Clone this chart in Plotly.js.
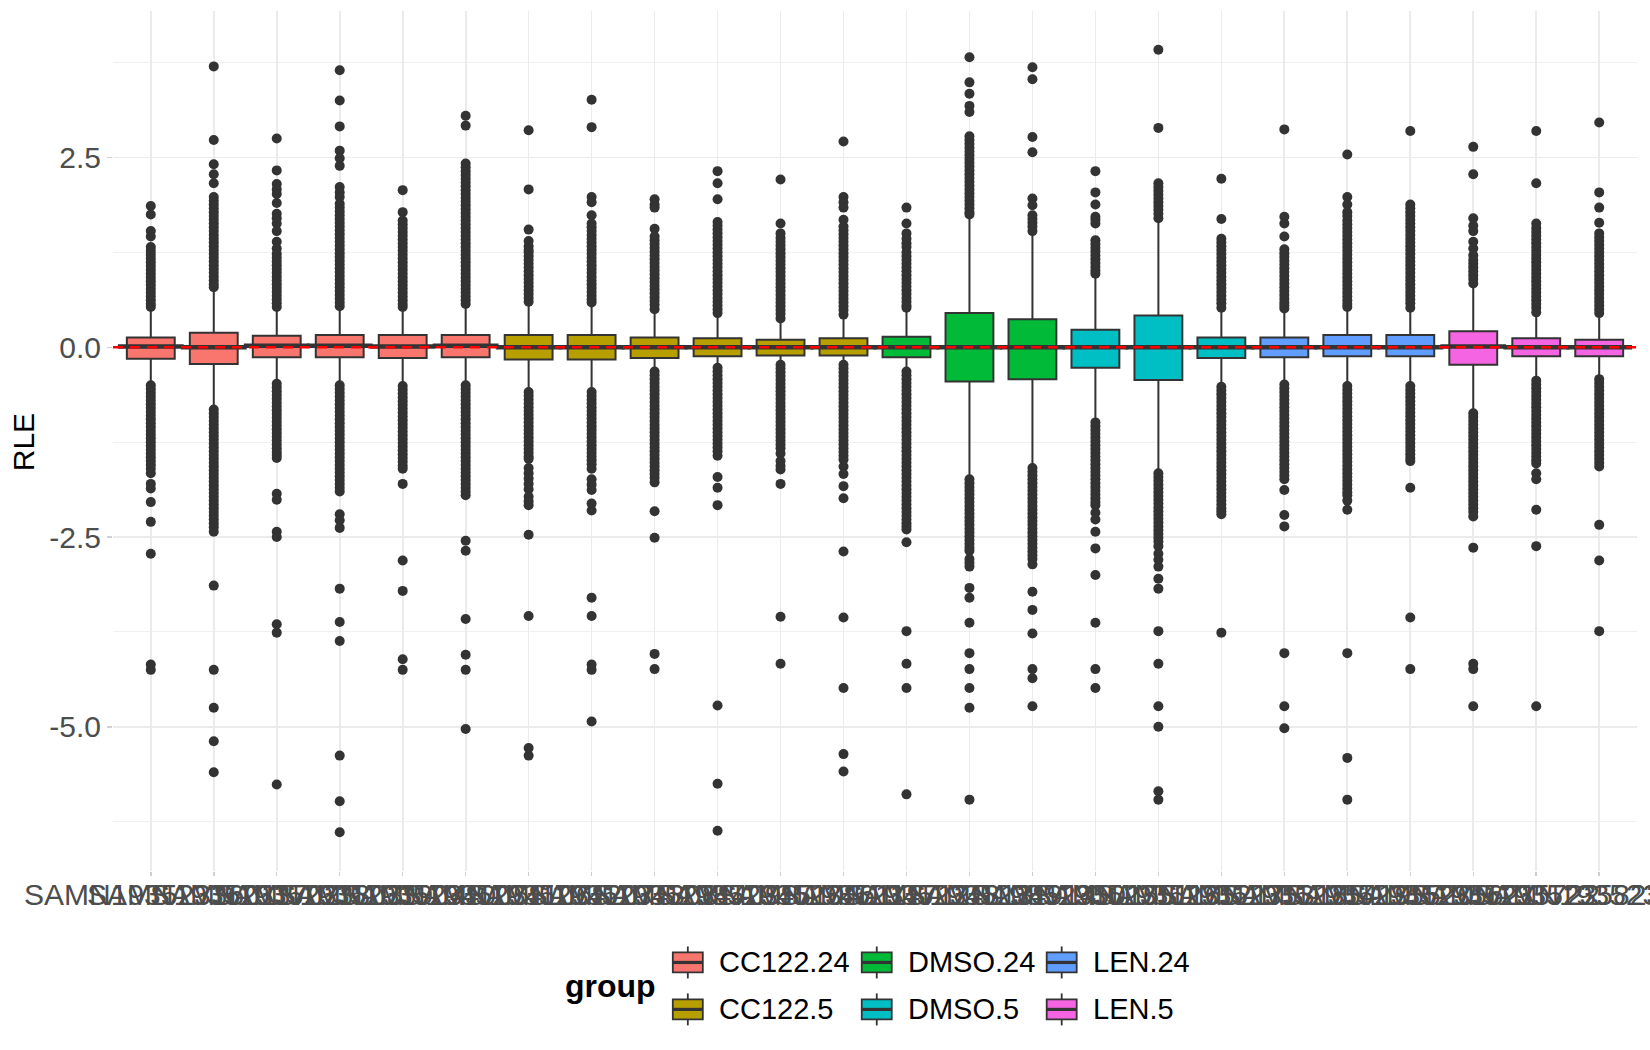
<!DOCTYPE html>
<html>
<head>
<meta charset="utf-8">
<script src="https://cdn.plot.ly/plotly-3.0.1.min.js"></script>
<style>
  html, body { margin: 0; padding: 0; background: #fff; }
  #chart { width: 1650px; height: 1050px; }
</style>
</head>
<body>
<div id="chart"></div>
<script>
// ── Data ────────────────────────────────────────────────────────────────────
const samples = [
  'SAMN1935233601', 'SAMN1935233702', 'SAMN1935233803', 'SAMN1935233904', 'SAMN1935234005', 'SAMN1935234106',
  'SAMN1935234207', 'SAMN1935234308', 'SAMN1935234409', 'SAMN1935234510', 'SAMN1935234611', 'SAMN1935234712',
  'SAMN1935234813', 'SAMN1935234914', 'SAMN1935235015', 'SAMN1935235116', 'SAMN1935235217', 'SAMN1935235318',
  'SAMN1935235419', 'SAMN1935235520', 'SAMN1935235621', 'SAMN1935235722', 'SAMN1935235823', 'SAMN1935235924',
];
const sampleGroup = [
  'CC122.24', 'CC122.24', 'CC122.24', 'CC122.24', 'CC122.24', 'CC122.24',
  'CC122.5', 'CC122.5', 'CC122.5', 'CC122.5', 'CC122.5', 'CC122.5',
  'DMSO.24', 'DMSO.24', 'DMSO.24', 'DMSO.5', 'DMSO.5', 'DMSO.5',
  'LEN.24', 'LEN.24', 'LEN.24', 'LEN.5', 'LEN.5', 'LEN.5',
];
const groupRow1 = ['CC122.24', 'DMSO.24', 'LEN.24'];
const groupRow2 = ['CC122.5', 'DMSO.5', 'LEN.5'];

const q1Vals     = [-0.15, -0.22, -0.13, -0.13, -0.14, -0.13, -0.16, -0.16, -0.14, -0.12, -0.11, -0.11,
                    -0.13, -0.45, -0.42, -0.27, -0.43, -0.14, -0.13, -0.12, -0.12, -0.23, -0.12, -0.12];
const medianVals = [0.01, 0.00, 0.02, 0.02, 0.01, 0.02, 0.00, 0.00, 0.00, 0.00, 0.00, 0.00,
                    0.00, 0.00, 0.00, 0.00, 0.00, 0.00, 0.00, 0.00, 0.00, 0.01, 0.00, 0.00];
const q3Vals     = [0.13, 0.19, 0.15, 0.16, 0.16, 0.16, 0.16, 0.16, 0.13, 0.12, 0.10, 0.12,
                    0.14, 0.45, 0.37, 0.23, 0.42, 0.13, 0.13, 0.16, 0.16, 0.21, 0.12, 0.10];
const lowerWhisker = [-0.46, -0.78, -0.44, -0.46, -0.47, -0.46, -0.55, -0.55, -0.28, -0.23, -0.19, -0.19,
                      -0.28, -1.70, -1.55, -0.95, -1.62, -0.48, -0.45, -0.47, -0.47, -0.83, -0.40, -0.38];
const upperWhisker = [0.49, 0.75, 0.49, 0.49, 0.49, 0.51, 0.55, 0.55, 0.46, 0.41, 0.34, 0.39,
                      0.48, 1.70, 1.49, 0.93, 1.66, 0.48, 0.47, 0.49, 0.48, 0.79, 0.41, 0.41];

// outliers, one list per sample (dense runs read at ~0.05 steps)
const outlierVals = [
  [1.86,1.75,1.53,1.46,1.32,1.27,1.22,1.17,1.12,1.07,1.02,0.97,0.92,0.87,0.82,0.77,0.72,0.67,0.62,0.57,0.53,
   -0.50,-0.55,-0.60,-0.65,-0.70,-0.75,-0.80,-0.85,-0.90,-0.95,-1.00,-1.05,-1.10,-1.15,-1.20,-1.25,-1.30,-1.35,-1.40,-1.45,-1.50,-1.55,-1.60,-1.66,
   -1.80,-1.86,-2.04,-2.30,-2.72,-4.18,-4.25],
  [3.70,2.73,2.41,2.28,2.16,1.98,1.93,1.88,1.83,1.78,1.73,1.68,1.63,1.58,1.53,1.48,1.43,1.38,1.33,1.28,1.23,1.18,1.13,1.08,1.03,0.98,0.93,0.88,0.83,0.79,
   -0.82,-0.87,-0.92,-0.97,-1.02,-1.07,-1.12,-1.17,-1.22,-1.27,-1.32,-1.37,-1.42,-1.47,-1.52,-1.57,-1.62,-1.67,-1.72,-1.77,-1.82,-1.87,-1.92,-1.97,
   -2.02,-2.07,-2.12,-2.17,-2.22,-2.27,-2.32,-2.37,-2.43,-3.14,-4.25,-4.75,-5.19,-5.60],
  [2.75,2.33,2.15,2.08,2.02,1.90,1.76,1.70,1.63,1.53,1.39,1.30,1.23,1.18,1.13,1.08,1.03,0.98,0.93,0.88,0.83,0.78,0.73,0.68,0.63,0.58,0.53,
   -0.48,-0.53,-0.58,-0.63,-0.68,-0.73,-0.78,-0.83,-0.88,-0.93,-0.98,-1.03,-1.08,-1.13,-1.18,-1.23,-1.28,-1.33,-1.38,-1.42,-1.46,
   -1.93,-2.01,-2.43,-2.50,-3.65,-3.76,-5.76],
  [3.65,3.25,2.91,2.59,2.49,2.39,2.11,2.04,1.98,1.89,1.84,1.79,1.74,1.69,1.64,1.59,1.54,1.49,1.44,1.39,1.34,1.29,1.24,1.19,1.14,1.09,1.04,
   0.99,0.94,0.89,0.84,0.79,0.74,0.69,0.64,0.59,0.54,
   -0.50,-0.55,-0.60,-0.65,-0.70,-0.75,-0.80,-0.85,-0.90,-0.95,-1.00,-1.05,-1.10,-1.15,-1.20,-1.25,-1.30,-1.35,-1.40,-1.45,-1.50,-1.55,-1.60,
   -1.65,-1.70,-1.75,-1.80,-1.85,-1.90,-2.20,-2.28,-2.38,-3.18,-3.62,-3.87,-5.38,-5.98,-6.39],
  [2.07,1.78,1.67,1.62,1.57,1.52,1.47,1.42,1.37,1.32,1.27,1.22,1.17,1.12,1.07,1.02,0.97,0.92,0.87,0.82,0.77,0.72,0.67,0.62,0.57,0.53,
   -0.51,-0.56,-0.61,-0.66,-0.71,-0.76,-0.81,-0.86,-0.91,-0.96,-1.01,-1.06,-1.11,-1.16,-1.21,-1.26,-1.31,-1.36,-1.41,-1.46,-1.51,-1.56,-1.60,
   -1.80,-2.81,-3.21,-4.11,-4.25],
  [3.05,2.92,2.42,2.37,2.32,2.27,2.22,2.17,2.12,2.07,2.02,1.97,1.92,1.87,1.82,1.77,1.72,1.67,1.62,1.57,1.52,1.47,1.42,1.37,1.32,1.27,1.22,1.17,
   1.12,1.07,1.02,0.97,0.92,0.87,0.82,0.77,0.72,0.67,0.62,0.57,
   -0.50,-0.55,-0.60,-0.65,-0.70,-0.75,-0.80,-0.85,-0.90,-0.95,-1.00,-1.05,-1.10,-1.15,-1.20,-1.25,-1.30,-1.35,-1.40,-1.45,-1.50,-1.55,-1.60,
   -1.65,-1.70,-1.75,-1.80,-1.85,-1.90,-1.95,-2.55,-2.68,-3.58,-4.05,-4.25,-5.03],
  [2.86,2.08,1.55,1.40,1.33,1.28,1.25,1.20,1.15,1.10,1.05,1.00,0.95,0.90,0.85,0.80,0.75,0.70,0.65,0.60,
   -0.59,-0.64,-0.69,-0.74,-0.79,-0.84,-0.89,-0.94,-0.99,-1.04,-1.09,-1.14,-1.19,-1.24,-1.29,-1.34,-1.39,-1.44,-1.47,
   -1.59,-1.66,-1.73,-1.80,-1.87,-1.97,-2.03,-2.08,-2.47,-3.54,-5.28,-5.38],
  [3.26,2.90,1.98,1.91,1.74,1.63,1.58,1.53,1.48,1.43,1.38,1.33,1.28,1.23,1.18,1.13,1.08,1.03,0.98,0.93,0.88,0.83,0.78,0.73,0.68,0.63,0.59,
   -0.59,-0.64,-0.69,-0.74,-0.79,-0.84,-0.89,-0.94,-0.99,-1.04,-1.09,-1.14,-1.19,-1.24,-1.29,-1.34,-1.39,-1.44,-1.49,-1.54,-1.60,
   -1.74,-1.81,-1.88,-2.06,-2.15,-3.30,-3.54,-4.18,-4.25,-4.93],
  [1.95,1.88,1.84,1.56,1.46,1.41,1.36,1.31,1.26,1.21,1.16,1.11,1.06,1.01,0.96,0.91,0.86,0.81,0.76,0.71,0.66,0.61,0.56,0.50,
   -0.32,-0.37,-0.42,-0.47,-0.52,-0.57,-0.62,-0.67,-0.72,-0.77,-0.82,-0.87,-0.92,-0.97,-1.02,-1.07,-1.12,-1.17,-1.22,-1.27,-1.32,-1.37,-1.42,
   -1.47,-1.52,-1.57,-1.62,-1.67,-1.72,-1.78,-2.16,-2.51,-4.04,-4.24],
  [2.32,2.16,1.95,1.65,1.60,1.55,1.50,1.45,1.40,1.35,1.30,1.25,1.20,1.15,1.10,1.05,1.00,0.95,0.90,0.85,0.80,0.75,0.70,0.65,0.60,0.55,0.50,0.45,
   -0.27,-0.32,-0.37,-0.42,-0.47,-0.52,-0.57,-0.62,-0.67,-0.72,-0.77,-0.82,-0.87,-0.92,-0.97,-1.02,-1.07,-1.12,-1.17,-1.22,-1.27,-1.32,-1.37,-1.43,
   -1.71,-1.85,-2.08,-4.72,-5.75,-6.37],
  [2.21,1.63,1.50,1.44,1.39,1.34,1.29,1.24,1.19,1.14,1.09,1.04,0.99,0.94,0.89,0.84,0.79,0.74,0.69,0.64,0.59,0.54,0.49,0.44,0.38,
   -0.23,-0.28,-0.33,-0.38,-0.43,-0.48,-0.53,-0.58,-0.63,-0.68,-0.73,-0.78,-0.83,-0.88,-0.93,-0.98,-1.03,-1.08,-1.13,-1.18,-1.23,-1.28,-1.33,-1.40,
   -1.50,-1.56,-1.61,-1.80,-3.55,-4.17],
  [2.71,1.98,1.91,1.84,1.68,1.59,1.54,1.49,1.44,1.39,1.34,1.29,1.24,1.19,1.14,1.09,1.04,0.99,0.94,0.89,0.84,0.79,0.74,0.69,0.64,0.59,0.54,0.49,0.43,
   -0.23,-0.28,-0.33,-0.38,-0.43,-0.48,-0.53,-0.58,-0.63,-0.68,-0.73,-0.78,-0.83,-0.88,-0.93,-0.98,-1.03,-1.08,-1.13,-1.18,-1.23,-1.28,-1.33,-1.38,
   -1.43,-1.48,-1.57,-1.67,-1.83,-1.99,-2.69,-3.56,-4.49,-5.36,-5.59],
  [1.84,1.63,1.50,1.43,1.37,1.32,1.25,1.20,1.15,1.10,1.05,1.00,0.95,0.90,0.85,0.80,0.75,0.70,0.65,0.60,0.55,0.52,
   -0.32,-0.37,-0.42,-0.47,-0.52,-0.57,-0.62,-0.67,-0.72,-0.77,-0.82,-0.87,-0.92,-0.97,-1.02,-1.07,-1.12,-1.17,-1.22,-1.27,-1.32,-1.37,-1.42,
   -1.47,-1.52,-1.57,-1.62,-1.67,-1.72,-1.77,-1.82,-1.87,-1.92,-1.97,-2.02,-2.07,-2.12,-2.17,-2.22,-2.27,-2.32,-2.36,-2.40,
   -2.57,-3.74,-4.17,-4.49,-5.89],
  [3.82,3.49,3.34,3.18,3.10,2.78,2.73,2.68,2.63,2.58,2.53,2.48,2.43,2.38,2.33,2.28,2.23,2.18,2.13,2.08,2.03,1.98,1.93,1.88,1.83,1.78,1.75,
   -1.74,-1.79,-1.84,-1.89,-1.94,-1.99,-2.04,-2.09,-2.14,-2.19,-2.24,-2.29,-2.34,-2.39,-2.44,-2.49,-2.54,-2.59,-2.64,-2.68,
   -2.79,-2.84,-2.89,-3.17,-3.30,-3.63,-4.03,-4.24,-4.49,-4.75,-5.96],
  [3.69,3.53,2.77,2.57,1.96,1.87,1.74,1.69,1.64,1.59,1.53,
   -1.59,-1.64,-1.69,-1.74,-1.79,-1.84,-1.89,-1.94,-1.99,-2.04,-2.09,-2.14,-2.19,-2.24,-2.29,-2.34,-2.39,-2.44,-2.49,-2.54,-2.59,-2.64,-2.69,
   -2.74,-2.79,-2.86,-3.22,-3.46,-3.77,-4.24,-4.36,-4.73],
  [2.32,2.04,1.88,1.72,1.68,1.63,1.41,1.36,1.31,1.26,1.21,1.16,1.11,1.06,1.01,0.97,
   -0.99,-1.04,-1.09,-1.14,-1.19,-1.24,-1.29,-1.34,-1.39,-1.44,-1.49,-1.54,-1.59,-1.64,-1.69,-1.74,-1.79,-1.84,-1.89,-1.94,-1.99,-2.04,-2.08,
   -2.18,-2.27,-2.43,-2.65,-3.00,-3.63,-4.24,-4.49],
  [3.92,2.89,2.16,2.11,2.06,2.01,1.96,1.91,1.86,1.81,1.76,1.70,
   -1.66,-1.71,-1.76,-1.81,-1.86,-1.91,-1.96,-2.01,-2.06,-2.11,-2.16,-2.21,-2.26,-2.31,-2.36,-2.41,-2.46,-2.51,-2.56,-2.62,
   -2.72,-2.80,-2.89,-3.05,-3.18,-3.74,-4.17,-4.73,-5.00,-5.85,-5.96],
  [2.22,1.69,1.43,1.38,1.33,1.28,1.23,1.18,1.13,1.08,1.03,0.98,0.93,0.88,0.83,0.78,0.73,0.68,0.63,0.58,0.52,
   -0.52,-0.57,-0.62,-0.67,-0.72,-0.77,-0.82,-0.87,-0.92,-0.97,-1.02,-1.07,-1.12,-1.17,-1.22,-1.27,-1.32,-1.37,-1.42,-1.47,-1.52,-1.57,-1.62,
   -1.67,-1.72,-1.77,-1.82,-1.87,-1.92,-1.97,-2.02,-2.07,-2.12,-2.16,-2.20,-3.76],
  [2.87,1.72,1.63,1.46,1.29,1.24,1.19,1.14,1.09,1.04,0.99,0.94,0.89,0.84,0.79,0.74,0.69,0.64,0.59,0.55,0.51,
   -0.49,-0.54,-0.59,-0.64,-0.69,-0.74,-0.79,-0.84,-0.89,-0.94,-0.99,-1.04,-1.09,-1.14,-1.19,-1.24,-1.29,-1.34,-1.39,-1.44,-1.49,-1.54,-1.59,
   -1.64,-1.69,-1.74,-1.88,-2.21,-2.36,-4.03,-4.73,-5.02],
  [2.54,1.98,1.88,1.78,1.73,1.67,1.62,1.57,1.52,1.47,1.42,1.37,1.32,1.27,1.22,1.17,1.12,1.07,1.02,0.97,0.92,0.87,0.82,0.77,0.72,0.67,0.62,0.57,0.53,
   -0.51,-0.56,-0.61,-0.66,-0.71,-0.76,-0.81,-0.86,-0.91,-0.96,-1.01,-1.06,-1.11,-1.16,-1.21,-1.26,-1.31,-1.36,-1.41,-1.46,-1.51,-1.56,-1.61,
   -1.66,-1.71,-1.76,-1.81,-1.86,-1.91,-1.95,-2.02,-2.14,-4.03,-5.41,-5.96],
  [2.85,1.88,1.83,1.78,1.73,1.68,1.63,1.58,1.53,1.48,1.43,1.38,1.33,1.28,1.23,1.18,1.13,1.08,1.03,0.98,0.93,0.88,0.83,0.78,0.73,0.68,0.63,0.58,0.52,
   -0.51,-0.56,-0.61,-0.66,-0.71,-0.76,-0.81,-0.86,-0.91,-0.96,-1.01,-1.06,-1.11,-1.16,-1.21,-1.26,-1.31,-1.36,-1.41,-1.46,-1.50,
   -1.85,-3.56,-4.24],
  [2.64,2.28,1.70,1.60,1.53,1.39,1.30,1.21,1.15,1.10,1.05,1.00,0.95,0.90,0.84,
   -0.87,-0.92,-0.97,-1.02,-1.07,-1.12,-1.17,-1.22,-1.27,-1.32,-1.37,-1.42,-1.47,-1.52,-1.57,-1.62,-1.67,-1.72,-1.77,-1.82,-1.87,-1.92,-1.97,
   -2.02,-2.07,-2.12,-2.17,-2.23,-2.64,-4.17,-4.24,-4.73],
  [2.85,2.16,1.63,1.57,1.52,1.47,1.42,1.37,1.32,1.27,1.22,1.17,1.12,1.07,1.02,0.97,0.92,0.87,0.82,0.77,0.72,0.67,0.62,0.57,0.52,0.46,
   -0.44,-0.49,-0.54,-0.59,-0.64,-0.69,-0.74,-0.79,-0.84,-0.89,-0.94,-0.99,-1.04,-1.09,-1.14,-1.19,-1.24,-1.29,-1.34,-1.39,-1.44,-1.49,-1.53,
   -1.66,-1.74,-2.14,-2.62,-4.73],
  [2.96,2.04,1.84,1.64,1.50,1.45,1.40,1.35,1.30,1.25,1.20,1.15,1.10,1.05,1.00,0.95,0.90,0.85,0.80,0.75,0.70,0.65,0.60,0.55,0.50,0.45,
   -0.42,-0.47,-0.52,-0.57,-0.62,-0.67,-0.72,-0.77,-0.82,-0.87,-0.92,-0.97,-1.02,-1.07,-1.12,-1.17,-1.22,-1.27,-1.32,-1.37,-1.42,-1.47,-1.52,-1.57,
   -2.34,-2.81,-3.74],
];

const refLineY  = 0;
const yTickVals = [-5, -2.5, 0, 2.5];
const yTickText = ['-5.0', '-2.5', '0.0', '2.5'];
const yMinorVals = [-6.25, -3.75, -1.25, 1.25, 3.75];

// ── Style ───────────────────────────────────────────────────────────────────
const FONT = 'Liberation Sans, Arial, Helvetica, sans-serif';
const GROUP_COLOR = {
  'CC122.24': '#F8766D',
  'CC122.5':  '#B79F00',
  'DMSO.24':  '#00BA38',
  'DMSO.5':   '#00BFC4',
  'LEN.24':   '#619CFF',
  'LEN.5':    '#F564E3',
};
const INK = '#333333';

const W = 1650, H = 1050;
const MARGIN = { l: 113, r: 12.5, t: 10.5, b: 179 };
const PLOT_W = W - MARGIN.l - MARGIN.r;
const PLOT_H = H - MARGIN.t - MARGIN.b;
// pixel -> paper helpers (used only for the hand-built ggplot-style legend)
const px2x = px => (px - MARGIN.l) / PLOT_W;
const py2y = py => (H - MARGIN.b - py) / PLOT_H;

const LEGEND_COL_PX = [673, 862, 1047];   // left edge of each key
const LEGEND_ROW_PX = [962.5, 1009.5];    // vertical centre of each row
const KEY_W = 30, KEY_HALF_H = 10, KEY_WHISK = 16;

// ── Traces ──────────────────────────────────────────────────────────────────
function boxTrace(group) {
  const idx = samples.map((s, i) => i).filter(i => sampleGroup[i] === group);
  const pick = arr => idx.map(i => arr[i]);
  return {
    type: 'box',
    name: group,
    showlegend: false,
    x: pick(samples),
    q1: pick(q1Vals),
    median: pick(medianVals),
    q3: pick(q3Vals),
    lowerfence: pick(lowerWhisker),
    upperfence: pick(upperWhisker),
    boxpoints: false,
    width: 0.76,
    whiskerwidth: 0,
    fillcolor: GROUP_COLOR[group],
    line: { color: INK, width: 2 },
    hoverinfo: 'skip',
  };
}

const traces = groupRow1.concat(groupRow2).map(boxTrace);

// thicker median bar like ggplot's fatten = 2
traces.push({
  type: 'scatter',
  mode: 'markers',
  x: samples,
  y: medianVals,
  showlegend: false,
  hoverinfo: 'skip',
  marker: { symbol: 'line-ew', size: 47, color: INK, line: { color: INK, width: 4.5 } },
});

// outlier points
const outX = [];
const outY = [];
outlierVals.forEach((vals, i) => vals.forEach(v => { outX.push(samples[i]); outY.push(v); }));
traces.push({
  type: 'scatter',
  mode: 'markers',
  x: outX,
  y: outY,
  showlegend: false,
  hoverinfo: 'skip',
  marker: { color: INK, size: 10, line: { width: 0 } },
});

// ── Legend (ggplot-style keys: box + median + whisker) ─────────────────────
const legendShapes = [];
const legendLabels = [];
[groupRow1, groupRow2].forEach((row, r) => {
  row.forEach((g, c) => {
    const left = LEGEND_COL_PX[c];
    const cy = LEGEND_ROW_PX[r];
    const cx = left + KEY_W / 2;
    const paper = { xref: 'paper', yref: 'paper' };
    legendShapes.push(Object.assign({ type: 'line', x0: px2x(cx), x1: px2x(cx),
      y0: py2y(cy - KEY_WHISK), y1: py2y(cy + KEY_WHISK), line: { color: INK, width: 1.8 } }, paper));
    legendShapes.push(Object.assign({ type: 'rect', x0: px2x(left), x1: px2x(left + KEY_W),
      y0: py2y(cy - KEY_HALF_H), y1: py2y(cy + KEY_HALF_H), fillcolor: GROUP_COLOR[g],
      line: { color: INK, width: 1.8 } }, paper));
    legendShapes.push(Object.assign({ type: 'line', x0: px2x(left), x1: px2x(left + KEY_W),
      y0: py2y(cy), y1: py2y(cy), line: { color: INK, width: 3.2 } }, paper));
    legendLabels.push({
      text: g, xref: 'paper', yref: 'paper',
      x: px2x(left + 44), y: py2y(cy), xanchor: 'left', yanchor: 'middle',
      showarrow: false, font: { family: FONT, size: 29, color: '#000000' },
    });
  });
});

// ── Layout ──────────────────────────────────────────────────────────────────
const layout = {
  width: W,
  height: H,
  paper_bgcolor: '#ffffff',
  plot_bgcolor: '#ffffff',
  font: { family: FONT, size: 29, color: '#000000' },
  margin: { l: MARGIN.l, r: MARGIN.r, t: MARGIN.t, b: MARGIN.b, pad: 0 },
  boxmode: 'overlay',
  showlegend: false,
  xaxis: {
    type: 'category',
    categoryorder: 'array',
    categoryarray: samples,
    tickmode: 'array',
    tickvals: samples,
    ticktext: samples,
    tickangle: 0,
    range: [-0.6, samples.length - 0.4],
    tickfont: { family: FONT, size: 30, color: '#4D4D4D' },
    showgrid: true,
    gridcolor: '#EBEBEB',
    gridwidth: 1.7,
    zeroline: false,
    showline: false,
    ticks: 'outside',
    ticklen: 4,
    tickwidth: 1.5,
    tickcolor: '#D0D0D0',
    ticklabelstandoff: -7,
    automargin: false,
  },
  yaxis: {
    range: [-6.9, 4.43],
    tickmode: 'array',
    tickvals: yTickVals,
    ticktext: yTickText,
    tickfont: { family: FONT, size: 30, color: '#4D4D4D' },
    showgrid: true,
    gridcolor: '#EBEBEB',
    gridwidth: 1.7,
    minor: { tickvals: yMinorVals, showgrid: true, gridcolor: '#F0F0F0', gridwidth: 1.1, ticks: '' },
    zeroline: false,
    showline: false,
    ticks: 'outside',
    ticklen: 5,
    tickwidth: 1.5,
    tickcolor: '#D0D0D0',
    automargin: false,
  },
  shapes: [{
    type: 'line',
    xref: 'paper', x0: 0, x1: 1,
    yref: 'y', y0: refLineY, y1: refLineY,
    line: { color: '#FF0000', width: 2.5, dash: '10px,7px' },
    layer: 'above',
  }].concat(legendShapes),
  annotations: [{
    // y-axis title, placed like ggplot's
    text: 'RLE',
    xref: 'paper', yref: 'paper',
    x: px2x(23), y: py2y(442),
    xanchor: 'center', yanchor: 'middle',
    textangle: -90,
    showarrow: false,
    font: { family: FONT, size: 30, color: '#000000' },
  }, {
    text: '<b>group</b>',
    xref: 'paper', yref: 'paper',
    x: px2x(658), y: py2y(986.5),
    xanchor: 'right', yanchor: 'middle',
    showarrow: false,
    font: { family: FONT, size: 32, color: '#000000' },
  }].concat(legendLabels),
};

const config = { displayModeBar: false, responsive: false, staticPlot: true };

Plotly.newPlot('chart', traces, layout, config);
</script>
</body>
</html>
